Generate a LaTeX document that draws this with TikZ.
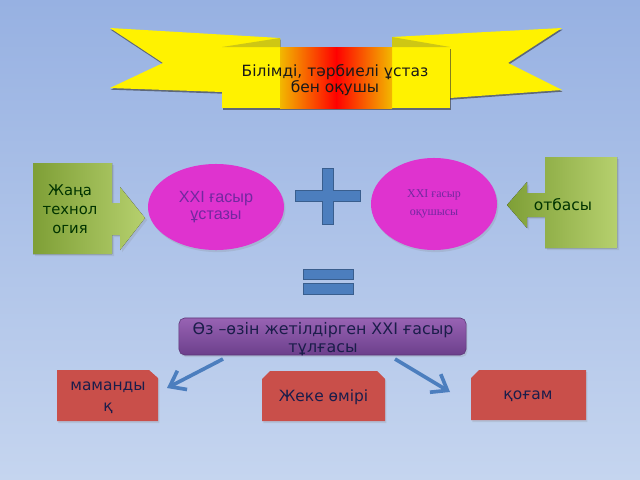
\documentclass[tikz,border=0pt]{standalone}
\usepackage{fontspec}
\setmainfont{DejaVu Sans}
\newfontfamily\arialfont{Liberation Sans}
\newfontfamily\timesfont{Liberation Serif}
\usetikzlibrary{
	shapes.geometric,
	arrows.meta,
	shadows
}
\definecolor{skytop}{HTML}{97B1E2}
\definecolor{skybottom}{HTML}{C5D5EF}
\definecolor{foldyellow}{HTML}{CEC714}
\definecolor{glow}{HTML}{F2B800}
\definecolor{leafdark}{HTML}{7E9F36}
\definecolor{leaflight}{HTML}{B6D06E}
\definecolor{ovalpink}{HTML}{DF33CF}
\definecolor{ovalink}{HTML}{7328A0}
\definecolor{steel}{HTML}{4C7EBE}
\definecolor{plumtop}{HTML}{9863B3}
\definecolor{plumbottom}{HTML}{6C3F8C}
\definecolor{brick}{HTML}{C94F4A}
\definecolor{navyink}{HTML}{1B1D4A}
\tikzset{
	ribbon wing/.style={
		fill=yellow,
		drop shadow={shadow xshift=0.4pt, shadow yshift=-1.2pt, fill=black!80, opacity=0.6}
	},
	ribbon fold/.style={
		fill=foldyellow
	},
	green callout/.style={
		shading angle=60,
		left color=leafdark,
		right color=leaflight,
		drop shadow={shadow xshift=1.5pt, shadow yshift=-1.5pt, opacity=0.2}
	},
	callout text/.style={
		font=\fontsize{10.5}{13.5}\selectfont,
		text=black!80!green,
		align=center
	},
	oval/.style={
		ellipse,
		fill=ovalpink,
		text=ovalink,
		align=center,
		inner sep=0pt,
		drop shadow={shadow xshift=1pt, shadow yshift=-1.5pt, opacity=0.2}
	},
	sign bar/.style={
		fill=steel,
		draw=steel!75!black,
		line width=0.5pt
	},
	red tab/.style={
		fill=brick,
		drop shadow={shadow xshift=1pt, shadow yshift=-1.5pt, opacity=0.2}
	},
	tab text/.style={
		text=navyink,
		align=center,
		font=\fontsize{11}{15}\selectfont
	},
	flow arrow/.style={
		draw=steel,
		line width=2.6pt,
		-{Straight Barb[length=10pt, width=15pt]}
	}
}
\begin{document}
\begin{tikzpicture}[x=0.025cm, y=-0.025cm]
	\useasboundingbox (0,0) rectangle (640,480);
	\shade[top color=skytop, bottom color=skybottom] (0,0) rectangle (640,480);
	%%%%% cinta
	\fill[ribbon wing] (110,28) -- (280,38) -- (280,92) -- (222,92) -- (110,88) -- (163,63) -- cycle;
	\fill[ribbon wing] (392,37) -- (562,28) -- (508,63) -- (562,90) -- (450,98) -- (392,98) -- cycle;
	\fill[ribbon wing] (222,47) rectangle (450,108);
	\shade[left color=glow, right color=red] (280,47) rectangle (336.5,108);
	\shade[left color=red, right color=glow] (336,47) rectangle (392,108);
	\fill[ribbon fold] (222,47) -- (280,38) -- (280,47) -- cycle;
	\fill[ribbon fold] (392,37) -- (392,47) -- (450,47) -- cycle;
	\node[font=\fontsize{11}{11.5}\selectfont, align=center, text=black!90] (motto) at (335,80) {Білімді, тәрбиелі ұстаз\\бен оқушы};
	%%%%% fila del mig
	\fill[green callout] (33,163) -- (112,163) -- (112,203) -- (120,203) -- (120,187) -- (145,218) -- (120,250) -- (120,235) -- (112,235) -- (112,254) -- (33,254) -- cycle;
	\node[callout text] (tech) at (70,209) {Жаңа\\технол\\огия};
	\fill[green callout] (617,157) -- (545,157) -- (545,193) -- (527,193) -- (527,182) -- (507,205) -- (527,228) -- (527,217) -- (545,217) -- (545,248) -- (617,248) -- cycle;
	\node[callout text, font=\fontsize{11}{13.5}\selectfont] (family) at (563,205) {отбасы};
	\node[oval, minimum width=3.4cm, minimum height=2.15cm, font=\arialfont\fontsize{11.5}{12}\selectfont] (teacher) at (216,207) {XXI ғасыр\\ұстазы};
	\node[oval, minimum width=3.15cm, minimum height=2.3cm, font=\timesfont\fontsize{8.5}{12.5}\selectfont] (pupil) at (434,204) {XXI ғасыр\\оқушысы};
	\path[sign bar] (322,168) -- (333,168) -- (333,190) -- (360,190) -- (360,201) -- (333,201) -- (333,224) -- (322,224) -- (322,201) -- (295,201) -- (295,190) -- (322,190) -- cycle;
	\path[sign bar] (303,269) rectangle (353,279);
	\path[sign bar] (303,283) rectangle (353,294);
	%%%%% resultat
	\node[rectangle, rounded corners=4pt, minimum width=7.175cm, minimum height=0.925cm, top color=plumtop, bottom color=plumbottom, draw=plumbottom!85!black, drop shadow={shadow xshift=1pt, shadow yshift=-1.5pt, opacity=0.2}] (person) at (322.5,336.5) {};
	\node[text=navyink, align=center, font=\fontsize{11.3}{12.5}\selectfont] (persontext) at (323,339) {Өз –өзін жетілдірген XXI ғасыр\\тұлғасы};
	\fill[red tab] (57,370) -- (149,370) -- (158,378) -- (158,421) -- (57,421) -- cycle;
	\fill[red tab] (262,379) -- (270,371) -- (377,371) -- (385,379) -- (385,421) -- (262,421) -- cycle;
	\fill[red tab] (471,378) -- (479,370) -- (586,370) -- (586,420) -- (471,420) -- cycle;
	\node[tab text] (job) at (108,398) {маманды\\қ};
	\node[tab text] (life) at (323.5,397.5) {Жеке өмірі};
	\node[tab text] (society) at (528,396) {қоғам};
	\coordinate (jobfrom) at (223,359);
	\coordinate (jobto) at (167,388);
	\coordinate (societyfrom) at (395,359);
	\coordinate (societyto) at (450,392);
	\draw[flow arrow] (jobfrom) -- (jobto);
	\draw[flow arrow] (societyfrom) -- (societyto);
\end{tikzpicture}
\end{document}
